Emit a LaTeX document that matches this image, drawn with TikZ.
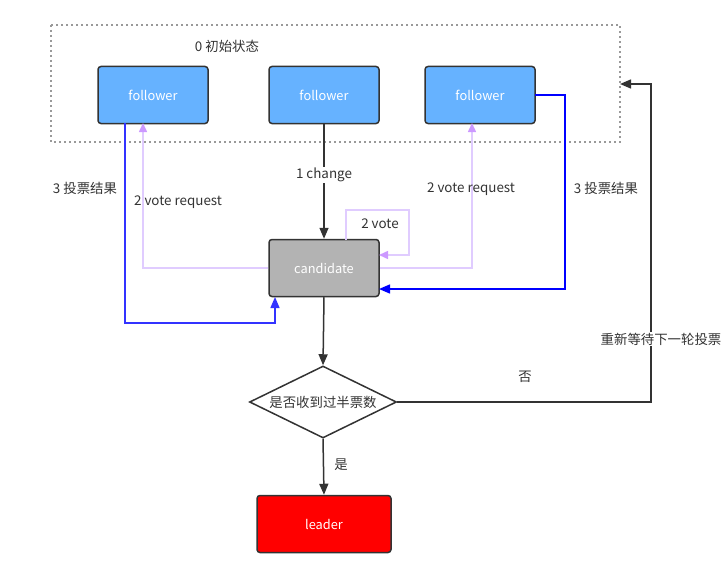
\documentclass[tikz,border=0pt]{standalone}
\usepackage{fontspec}
\setmainfont{Noto Sans CJK SC}
\usetikzlibrary{arrows.meta,shapes.geometric}
\definecolor{dk}{HTML}{333333}
\definecolor{fblue}{HTML}{66B2FF}
\definecolor{cgray}{HTML}{B3B3B3}
\definecolor{lav}{HTML}{E0CCFF}
\definecolor{lavh}{HTML}{CC99FF}
\definecolor{blueA}{HTML}{3333FF}
\definecolor{blueB}{HTML}{0000FF}
\begin{document}
\begin{tikzpicture}[x=1pt,y=-1pt,
  box/.style={draw=dk,line width=1.5pt,rounded corners=3pt,minimum width=110pt,minimum height=57pt,text=white,font=\fontsize{12.8}{14}\selectfont},
  lbl/.style={font=\fontsize{13.4}{15}\selectfont,text=dk},
  blk/.style={draw=dk,line width=1.5pt,-{Triangle[length=11pt,width=9pt]}},
  lavline/.style={draw=lav,line width=1.5pt,-{Triangle[length=9pt,width=8pt,fill=lavh,color=lavh]}},
  bl/.style={line width=1.5pt,-{Triangle[length=11pt,width=9pt]}}
]
\useasboundingbox (0,0) rectangle (723,578);
\draw[gray!80,line width=1.5pt,dash pattern=on 2pt off 3pt] (51,25) rectangle (620,142);
\node[lbl] (title) at (227,46) {0 初始状态};
\node[box,fill=fblue] (f1) at (153,95) {follower};
\node[box,fill=fblue] (f2) at (324,95) {follower};
\node[box,fill=fblue] (f3) at (480,95) {follower};
\node[box,fill=cgray] (cand) at (324,268) {candidate};
\node[draw=dk,line width=1.5pt,diamond,aspect=2.04,minimum width=147pt,minimum height=72pt,inner sep=0pt,lbl] (dec) at (323,402) {是否收到过半票数};
\node[box,fill=red,minimum width=134pt] (lead) at (324,524) {leader};
% 1 change
\draw[blk] (f2.south) -- node[pos=0.44,lbl,fill=white,inner sep=1pt] {1 change} (cand.north);
\draw[blk] (cand.south) -- (dec.north);
\draw[blk] (dec.south) -- (lead.north);
\node[lbl] (yes) at (341,465) {是};
% no loop
\coordinate (r1) at (651,402);
\coordinate (r2) at (651,84);
\coordinate (rend) at (620,84);
\draw[blk] (dec.east) -- (r1) -- (r2) -- (rend);
\node[lbl] (no) at (525,377) {否};
\node[lbl,fill=white,inner sep=1pt] (wait) at (661,339) {重新等待下一轮投票};
% vote requests
\coordinate (vl1) at (143,268);
\coordinate (vl2) at (143,123);
\draw[lavline] (cand.west |- vl1) -- (vl1) -- (vl2);
\coordinate (vr1) at (472,268);
\coordinate (vr2) at (472,123);
\draw[lavline] (cand.east |- vr1) -- (vr1) -- (vr2);
\node[lbl] (vreqL) at (178,202) {2 vote request};
\node[lbl] (vreqR) at (471,189) {2 vote request};
% self vote
\coordinate (s0) at (346,240);
\coordinate (s1) at (346,210);
\coordinate (s2) at (409,210);
\coordinate (s3) at (409,255);
\coordinate (s4) at (379,255);
\draw[lavline] (s0) -- (s1) -- (s2) -- (s3) -- (s4);
\node[lbl] (selfv) at (380,224) {2 vote};
% results
\coordinate (bl0) at (125,123);
\coordinate (bl1) at (125,323);
\coordinate (bl2) at (275,323);
\coordinate (bl3) at (275,297);
\draw[bl,blueA] (bl0) -- (bl1) -- (bl2) -- (bl3);
\node[lbl] (resL) at (85,188) {3 投票结果};
\coordinate (br0) at (535,95);
\coordinate (br1) at (565,95);
\coordinate (br2) at (565,289);
\coordinate (br3) at (379,289);
\draw[bl,blueB] (br0) -- (br1) -- (br2) -- (br3);
\node[lbl] (resR) at (606,188) {3 投票结果};
\end{tikzpicture}
\end{document}
